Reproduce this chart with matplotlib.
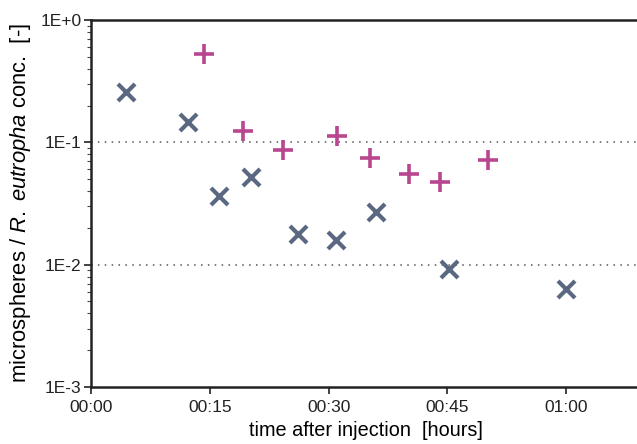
import numpy as np
import matplotlib.pyplot as plt
from matplotlib.ticker import FuncFormatter, LogLocator, NullFormatter

plt.rcParams['font.family'] = ['Liberation Sans', 'DejaVu Sans']
plt.rcParams['mathtext.fontset'] = 'custom'
plt.rcParams['mathtext.it'] = 'Liberation Sans:italic'
plt.rcParams['mathtext.rm'] = 'Liberation Sans'

# minutes after injection
t_microspheres = [4.4, 12.2, 16.2, 20.2, 26.1, 30.9, 36.0, 45.2, 60.0]
c_microspheres = [0.258, 0.147, 0.0364, 0.052, 0.0178, 0.0159, 0.0269, 0.0092, 0.0063]

t_eutropha = [14.3, 19.2, 24.2, 31.1, 35.2, 40.2, 44.1, 50.1]
c_eutropha = [0.527, 0.124, 0.0865, 0.113, 0.0744, 0.055, 0.0473, 0.0717]

xticks = [0, 15, 30, 45, 60]
yticks = [1e-3, 1e-2, 1e-1, 1e0]
ytick_labels = ["1E-3", "1E-2", "1E-1", "1E+0"]

fig = plt.figure(figsize=(6.37, 4.44), dpi=100)
ax = fig.add_axes([91 / 637, 57 / 444, 549 / 637, 367 / 444])

ax.scatter(t_microspheres, c_microspheres, marker="x", s=150, linewidths=3,
           color="#5b6882", zorder=3)
ax.scatter(t_eutropha, c_eutropha, marker="+", s=220, linewidths=2.6,
           color="#b8478f", zorder=3)

ax.set_yscale("log")
ax.set_ylim(1e-3, 1e0)
ax.set_xlim(0, 69.3)

ax.set_yticks(yticks)
ax.set_yticklabels(ytick_labels)
ax.yaxis.set_minor_locator(LogLocator(base=10, subs=np.arange(2, 10)))
ax.yaxis.set_minor_formatter(NullFormatter())

ax.set_xticks(xticks)
ax.xaxis.set_major_formatter(FuncFormatter(lambda m, p: "%02d:%02d" % (m // 60, m % 60)))

for y in [1e-1, 1e-2]:
    ax.axhline(y, color="#555555", linestyle=(0, (1, 3.5)), linewidth=1.1, zorder=1)

for s in ["left", "bottom", "top"]:
    ax.spines[s].set_linewidth(1.8)
    ax.spines[s].set_color("#222222")
ax.spines["right"].set_visible(False)

ax.tick_params(axis="both", which="major", labelsize=12.5, length=5, width=1.2,
               colors="#222222", direction="out")
ax.tick_params(axis="x", which="major", pad=4)
ax.tick_params(axis="y", which="major", pad=2)
ax.tick_params(axis="y", which="minor", length=3, width=0.8, colors="#444444")

ax.set_xlabel("time after injection  [hours]", fontsize=14.3, labelpad=5)
ax.set_ylabel("microspheres / $\\it{R.}$ $\\it{eutropha}$ conc.  [-]", fontsize=15.8, labelpad=5)

fig.savefig("out.png", dpi=100)
